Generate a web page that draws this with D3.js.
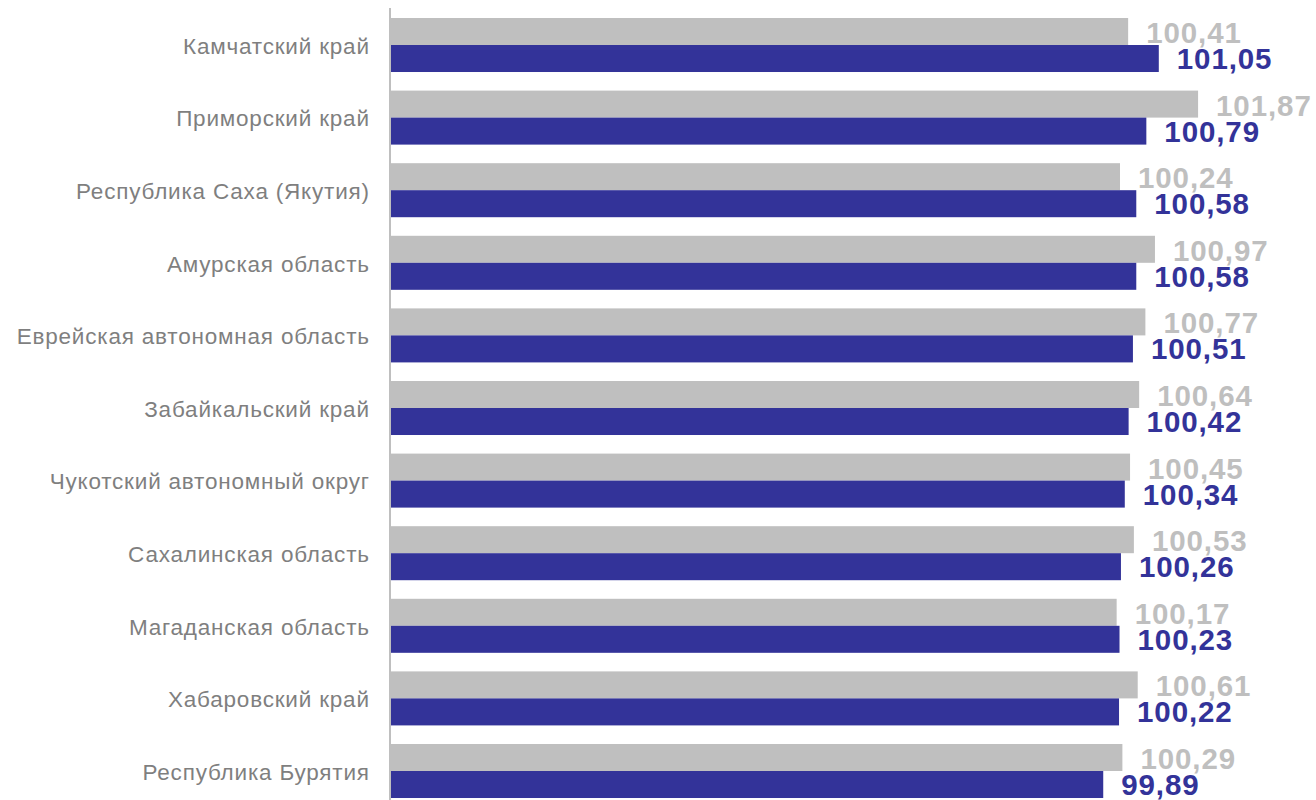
<!DOCTYPE html>
<html><head><meta charset="utf-8">
<script src="https://cdn.jsdelivr.net/npm/d3@7/dist/d3.min.js"></script>
<style>html,body{margin:0;padding:0;background:#fff;overflow:hidden}</style>
</head><body>
<svg id="chart" width="1316" height="800"></svg>
<script>
const categories = ["Камчатский край","Приморский край","Республика Саха (Якутия)","Амурская область","Еврейская автономная область","Забайкальский край","Чукотский автономный округ","Сахалинская область","Магаданская область","Хабаровский край","Республика Бурятия"];
const seriesPrev = [100.41,101.87,100.24,100.97,100.77,100.64,100.45,100.53,100.17,100.61,100.29];
const seriesCurr = [101.05,100.79,100.58,100.58,100.51,100.42,100.34,100.26,100.23,100.22,99.89];

const svg = d3.select("#chart");
const x = d3.scaleLinear().domain([85, 105]).range([390, 390 + 47.9*20]);
const y = d3.scaleBand().domain(categories).range([8.7, 807.3]).paddingInner(0.256).paddingOuter(0.128);
const half = y.bandwidth()/2;
const fmt = v => d3.format(".2f")(v).replace(".", ",");
const font = "Liberation Sans, Arial, sans-serif";

const rows = categories.map((c,i)=>({c, p: seriesPrev[i], v: seriesCurr[i]}));

svg.selectAll("rect.prev").data(rows).join("rect")
  .attr("x", x(85)).attr("y", d => y(d.c)).attr("width", d => x(d.p)-x(85)).attr("height", half)
  .attr("fill", "#bfbfbf");
svg.selectAll("rect.curr").data(rows).join("rect")
  .attr("x", x(85)).attr("y", d => y(d.c)+half).attr("width", d => x(d.v)-x(85)).attr("height", half)
  .attr("fill", "#333399");

svg.append("line").attr("x1",390).attr("x2",390).attr("y1",8).attr("y2",800)
  .attr("stroke","#bfbfbf").attr("stroke-width",2);

svg.selectAll("text.cat").data(rows).join("text")
  .attr("x", 369.8).attr("y", d => y(d.c)+half+8.8)
  .attr("text-anchor","end").attr("font-family",font).attr("letter-spacing","0.8px")
  .attr("font-size", 22.5).attr("fill","#7f7f7f").text(d => d.c);

svg.selectAll("text.prevl").data(rows).join("text")
  .attr("x", d => x(d.p)+18).attr("y", d => y(d.c)+25)
  .attr("font-family",font).attr("font-weight","bold").attr("letter-spacing","0.9px")
  .attr("font-size", 29.5).attr("fill","#bfbfbf").text(d => fmt(d.p));

svg.selectAll("text.currl").data(rows).join("text")
  .attr("x", d => x(d.v)+18).attr("y", d => y(d.c)+half+24)
  .attr("font-family",font).attr("font-weight","bold").attr("letter-spacing","0.9px")
  .attr("font-size", 29.5).attr("fill","#333399").text(d => fmt(d.v));
</script>
</body></html>
